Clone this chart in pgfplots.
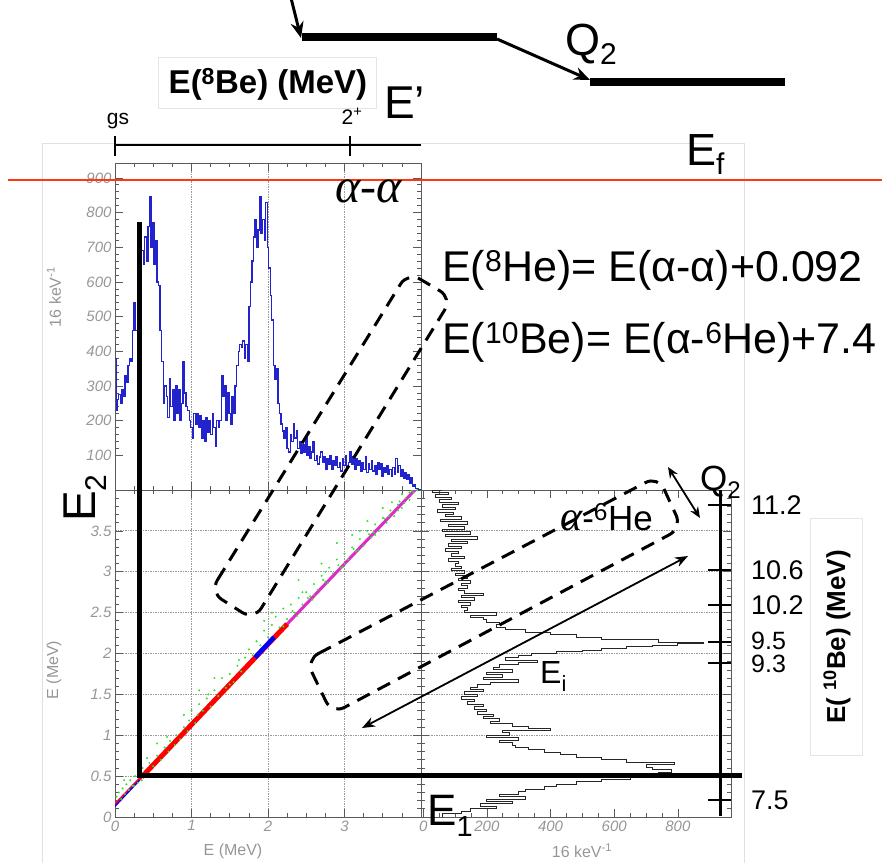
\documentclass[border=0pt]{standalone}
\usepackage{fontspec}
\setmainfont{Liberation Sans}
\newfontfamily\greekserif{Liberation Serif}
\usepackage{pgfplots}
\pgfplotsset{compat=1.18}
\usetikzlibrary{arrows.meta}
\newcommand{\fs}[1]{\fontsize{#1}{#1}\selectfont}
\definecolor{histblue}{RGB}{35,35,205}
\definecolor{redline}{RGB}{255,55,20}
\definecolor{mygreen}{RGB}{50,225,50}
\definecolor{mymag}{RGB}{225,40,200}
\definecolor{tickgray}{RGB}{150,150,150}
\pgfplotsset{rootax/.style={
  scale only axis, anchor=south west,
  axis line style={draw=black!65, line width=0.9pt},
  every tick/.style={black!65, line width=0.7pt},
  major tick length=8pt, minor tick length=4pt,
  tick label style={font=\fs{15}\itshape, text=tickgray},
  /pgf/number format/assume math mode=true,
  grid style={black!40, line width=0.8pt, dash pattern=on 1.5pt off 1pt},
}}
\begin{document}
\begin{tikzpicture}
\useasboundingbox (0,0) rectangle (882pt,-862pt);
\begin{scope}[x=1pt,y=-1pt]
\draw[black!12, line width=1pt] (42,143) rectangle (744,875);
\end{scope}

% upper alpha-alpha histogram
\begin{axis}[rootax, at={(115pt,-490pt)}, width=306pt, height=327pt,
  xmin=0, xmax=4, ymin=0, ymax=943,
  xtick={0,1,2,3,4}, xticklabels={}, minor x tick num=3,
  ytick={100,200,...,900}, minor y tick num=4, xmajorgrids]
\addplot[const plot, color=histblue, line width=1.3pt] coordinates {
(0.00,380) (0.016,230) (0.03,260) (0.05,275) (0.07,250) (0.09,290) (0.11,270) (0.13,330) (0.15,310) (0.17,360)
(0.19,380) (0.21,370) (0.23,460) (0.25,540) (0.27,460) (0.29,520) (0.31,620) (0.33,580) (0.35,690) (0.37,650)
(0.39,730) (0.41,660) (0.43,760) (0.45,845) (0.47,700) (0.49,770) (0.51,650) (0.53,720) (0.55,600) (0.57,590)
(0.59,460) (0.61,370) (0.63,250) (0.65,300) (0.67,270) (0.69,210) (0.71,320) (0.73,240) (0.75,290) (0.77,200)
(0.79,300) (0.81,220) (0.83,290) (0.85,200) (0.87,250) (0.89,370) (0.91,280) (0.93,240) (0.95,230) (0.97,200)
(0.99,180) (1.01,150) (1.03,220) (1.05,190) (1.07,220) (1.09,180) (1.11,215) (1.13,150) (1.15,200) (1.17,140)
(1.19,210) (1.21,165) (1.23,200) (1.25,160) (1.27,220) (1.29,180) (1.31,125) (1.33,200) (1.35,180) (1.37,200)
(1.39,330) (1.41,270) (1.43,300) (1.45,200) (1.47,280) (1.49,220) (1.51,190) (1.53,270) (1.55,220) (1.57,300)
(1.59,360) (1.61,400) (1.63,420) (1.65,410) (1.67,430) (1.69,380) (1.71,420) (1.73,370) (1.75,530) (1.77,600)
(1.79,660) (1.81,730) (1.83,780) (1.85,700) (1.87,750) (1.89,845) (1.91,740) (1.93,780) (1.95,720) (1.97,830)
(1.99,700) (2.01,640) (2.03,560) (2.05,490) (2.07,360) (2.09,320) (2.11,350) (2.13,250) (2.15,220) (2.17,190)
(2.19,170) (2.21,150) (2.23,180) (2.25,120) (2.27,110) (2.29,160) (2.31,140) (2.33,190) (2.35,150) (2.37,170)
(2.39,120) (2.41,140) (2.43,105) (2.45,130) (2.47,110) (2.49,150) (2.51,100) (2.53,125) (2.55,90) (2.57,110)
(2.59,140) (2.61,85) (2.63,100) (2.65,75) (2.67,95) (2.69,110) (2.71,80) (2.73,95) (2.75,60) (2.77,90)
(2.79,75) (2.81,100) (2.83,60) (2.85,85) (2.87,70) (2.89,95) (2.91,65) (2.93,80) (2.95,55) (2.97,90)
(2.99,70) (3.01,100) (3.03,65) (3.05,80) (3.07,110) (3.09,75) (3.11,95) (3.13,60) (3.15,90) (3.17,70)
(3.19,85) (3.21,55) (3.23,80) (3.25,60) (3.27,95) (3.29,50) (3.31,75) (3.33,60) (3.35,85) (3.37,55)
(3.39,70) (3.41,45) (3.43,80) (3.45,60) (3.47,75) (3.49,40) (3.51,65) (3.53,50) (3.55,70) (3.57,45)
(3.59,60) (3.61,40) (3.63,65) (3.65,45) (3.67,90) (3.69,50) (3.71,70) (3.73,40) (3.75,60) (3.77,35)
(3.79,50) (3.81,30) (3.83,45) (3.85,20) (3.87,35) (3.89,10) (3.91,15) (3.93,5) (3.95,3) (3.97,0) (4.0,0)};
\end{axis}

% lower-left scatter
\begin{axis}[rootax, at={(115pt,-817pt)}, width=306pt, height=327pt,
  xmin=0, xmax=4, ymin=0, ymax=4,
  xtick={0,1,2,3,4}, xticklabels={0,1,2,3,}, minor x tick num=3,
  ytick={0,0.5,...,4}, yticklabels={0,0.5,1,1.5,2,2.5,3,3.5,}, minor y tick num=4, grid=major]
\addplot[mymag, line width=3pt] coordinates {(0,0.15) (3.92,4.0)};
\addplot[only marks, mark=*, mark size=0.8pt, color=mygreen] coordinates {
(0.02,0.25) (0.05,0.3) (0.08,0.22) (0.1,0.35) (0.13,0.28) (0.15,0.4) (0.18,0.33) (0.2,0.45) (0.23,0.38) (0.26,0.5)
(0.3,0.42) (0.33,0.55) (0.36,0.6) (0.4,0.52) (0.45,0.66) (0.5,0.62) (0.55,0.75) (0.6,0.7) (0.65,0.85) (0.7,0.8)
(0.72,0.93) (0.78,0.88) (0.8,1.0) (0.85,0.95) (0.9,1.1) (0.95,1.05) (0.97,1.18) (1.0,1.3) (1.05,1.15) (1.08,1.25)
(1.1,1.38) (1.15,1.3) (1.2,1.45) (1.25,1.35) (1.3,1.55) (1.35,1.48) (1.4,1.7) (1.45,1.58) (1.5,1.75) (1.55,1.65)
(1.6,1.85) (1.65,1.78) (1.7,1.95) (1.75,2.05) (1.8,1.98) (1.85,2.15) (1.9,2.1) (1.95,2.28) (2.0,2.2) (2.05,2.35)
(2.1,2.45) (2.15,2.32) (2.2,2.55) (2.25,2.42) (2.3,2.6) (2.35,2.5) (2.4,2.68) (2.45,2.6) (2.5,2.75) (2.55,2.7)
(2.6,2.85) (2.65,2.78) (2.7,2.95) (2.75,2.88) (2.8,3.05) (2.85,2.98) (2.9,3.15) (2.95,3.05) (3.0,3.22) (3.05,3.15)
(3.1,3.3) (3.15,3.25) (3.2,3.4) (3.25,3.32) (3.3,3.5) (3.35,3.42) (3.4,3.58) (3.45,3.5) (3.5,3.66) (3.55,3.6)
(3.6,3.75) (3.65,3.68) (3.7,3.82) (3.75,3.78) (3.8,3.9) (3.85,3.88) (3.9,3.97) (3.62,3.85) (3.3,3.62) (2.7,3.1)
(1.3,1.7) (1.1,1.55) (0.9,1.25) (0.55,0.9) (2.9,3.35) (3.1,3.45) (2.4,2.9) (0.35,0.45) (0.25,0.38) (1.5,1.62)
(2.2,2.33) (2.6,2.72) (3.0,3.1) (3.4,3.45) (3.7,3.75) (3.95,4.0) (2.45,2.75) (2.75,3.0) (3.2,3.5) (3.5,3.78)
(3.75,3.95) (3.85,3.97) (2.05,2.5) (1.95,2.4) (0.12,0.45) (0.42,0.72) (0.68,0.98)
(2.32,2.52) (2.52,2.68) (2.72,2.9) (2.92,3.08) (3.12,3.28) (3.32,3.46) (3.52,3.65) (3.72,3.86) (3.88,3.99)
(2.38,2.46) (2.58,2.66) (2.78,2.86) (2.98,3.06) (3.18,3.26) (3.38,3.48) (3.58,3.68) (3.78,3.84) (1.62,1.92) (1.22,1.5)};
\addplot[red, line width=5pt] coordinates {(0.35,0.49) (2.25,2.36)};
\addplot[red, line width=2pt] coordinates {(0.0,0.15) (0.35,0.49)};
\addplot[blue, line width=4.5pt] coordinates {(1.83,1.95) (2.08,2.2)};
\addplot[blue, line width=1.2pt] coordinates {(0.0,0.13) (0.32,0.45)};
\end{axis}

% lower-right horizontal histogram
\begin{axis}[rootax, at={(421pt,-817pt)}, width=310pt, height=327pt,
  xmin=-7, xmax=967, ymin=0, ymax=4,
  xtick={0,200,400,600,800}, minor x tick num=3,
  ytick={0,0.5,...,4}, yticklabels={}, minor y tick num=4, ymajorgrids]
\addplot[const plot, black!85, line width=1pt] coordinates {
(60,4.00) (30,3.97) (80,3.94) (40,3.91) (90,3.88) (50,3.85) (110,3.82) (60,3.79) (100,3.76) (45,3.73)
(95,3.70) (70,3.67) (120,3.64) (55,3.61) (140,3.58) (80,3.55) (130,3.52) (60,3.49) (150,3.46) (70,3.43)
(170,3.40) (90,3.37) (140,3.34) (80,3.31) (120,3.28) (70,3.25) (110,3.22) (90,3.19) (130,3.16) (80,3.13)
(110,3.10) (100,3.07) (120,3.04) (90,3.01) (130,2.98) (100,2.95) (140,2.92) (110,2.89) (150,2.86) (120,2.83)
(140,2.80) (110,2.77) (130,2.74) (190,2.71) (120,2.68) (160,2.65) (110,2.62) (150,2.59) (120,2.56) (140,2.53)
(130,2.50) (230,2.47) (150,2.44) (190,2.41) (200,2.38) (240,2.35) (230,2.32) (260,2.29) (320,2.26) (400,2.23)
(480,2.20) (560,2.17) (740,2.14) (880,2.12) (800,2.10) (720,2.08) (640,2.06) (560,2.04) (500,2.02) (420,2.00)
(340,1.98) (300,1.95) (260,1.92) (360,1.89) (300,1.86) (240,1.83) (220,1.80) (280,1.77) (200,1.74) (250,1.71)
(190,1.68) (300,1.65) (210,1.62) (170,1.59) (150,1.56) (190,1.53) (130,1.50) (170,1.47) (120,1.44) (160,1.41)
(140,1.38) (190,1.35) (160,1.32) (200,1.29) (170,1.26) (220,1.23) (190,1.20) (240,1.17) (210,1.14) (280,1.11)
(330,1.08) (400,1.06) (250,1.03) (270,1.00) (200,0.97) (300,0.94) (240,0.91) (280,0.88) (290,0.85) (330,0.82)
(380,0.79) (430,0.76) (480,0.73) (560,0.70) (640,0.67) (790,0.64) (700,0.61) (720,0.58) (780,0.55) (740,0.52)
(760,0.49) (650,0.46) (560,0.43) (480,0.40) (420,0.37) (380,0.34) (320,0.31) (300,0.28) (240,0.25) (320,0.22)
(200,0.19) (280,0.16) (180,0.13) (230,0.10) (150,0.07) (120,0.04) (60,0.01) (60,0.0)};
\end{axis}

\begin{scope}[x=1pt,y=-1pt]
% axis labels
\node[rotate=90, text=tickgray] at (54,297) {\fs{16}16 keV\textsuperscript{-1}};
\node[rotate=90, text=tickgray] at (54,670) {\fs{16}E (MeV)};
\node[text=tickgray] at (233,851) {\fs{16}E (MeV)};
\node[text=tickgray] at (582,851) {\fs{16}16 keV\textsuperscript{-1}};
% red line
\draw[redline, line width=1.5pt] (8,180) -- (882,180);
% level scheme
\draw[line width=8pt] (302,37) -- (497,37);
\draw[line width=8pt] (590,82) -- (785,82);
\draw[line width=3pt, -{Stealth[length=16pt,width=13pt]}] (497,39) -- (590,80);
\draw[line width=3pt, -{Stealth[length=16pt,width=13pt]}] (291,-2) -- (301,38);
\node[anchor=base west, inner sep=0] at (565,55) {\fs{45}Q\raisebox{-0.22em}{\fs{30}2}};
\node[anchor=base west, inner sep=0] at (384,118) {\fs{46}E’};
\node[anchor=base west, inner sep=0] at (686,165) {\fs{45}E\raisebox{-0.22em}{\fs{30}f}};
% top E(8Be) axis
\draw[black!10, fill=white] (158,57) rectangle (376,108);
\node[inner sep=0] at (268,84) {\bfseries\fs{33}E(\textsuperscript{8}Be) (MeV)};
\node[anchor=base, inner sep=0] at (118,124) {\fs{21}gs};
\node[anchor=base, inner sep=0] at (352,124) {\fs{21}2\textsuperscript{+}};
\draw[line width=2.5pt] (115,145) -- (421,145);
\draw[line width=2pt] (115,136) -- (115,156);
\draw[line width=2pt] (350,136) -- (350,156);
% formulas
\node[anchor=base west, inner sep=0] at (442,281) {\fs{43}E(\textsuperscript{8}He)= E(α-α)+0.092};
\node[anchor=base west, inner sep=0] at (442,353) {\fs{43}E(\textsuperscript{10}Be)= E(α-\textsuperscript{6}He)+7.4};
% thick lines
\draw[line width=5pt] (139,222) -- (139,777);
\draw[line width=5pt] (137,775) -- (742,775);
% right E(10Be) axis
\draw[line width=3pt] (720,490) -- (720,816);
\foreach \yy/\lab in {505/11.2, 570/10.6, 605/10.2, 800/7.5} {
  \draw[line width=2pt] (708,\yy) -- (731,\yy);
  \node[anchor=west, inner sep=0] at (751,\yy) {\fs{27}\lab};
}
\draw[line width=2pt] (708,642) -- (731,642);
\draw[line width=2pt] (708,663) -- (731,663);
\node[anchor=base west, inner sep=0] at (751,649) {\fs{25}9.5};
\node[anchor=base west, inner sep=0] at (751,672) {\fs{25}9.3};
\draw[black!10, fill=white] (810,518) rectangle (862,755);
\node[rotate=90, inner sep=0] at (837,637) {\bfseries\fs{26}E( \textsuperscript{10}Be) (MeV)};
% dashed boxes
\draw[line width=3pt, dash pattern=on 14pt off 9pt, rounded corners=14pt] (210,592) -- (408,272) -- (452,298) -- (254,620) -- cycle;
\draw[line width=3pt, dash pattern=on 14pt off 9pt, rounded corners=14pt] (306,660) -- (658,476) -- (682,528) -- (332,714) -- cycle;
% arrows
\draw[line width=1.8pt, {Stealth[length=13pt,width=10pt]}-{Stealth[length=13pt,width=10pt]}] (362,728) -- (688,556);
\draw[line width=1.8pt, {Stealth[length=11pt,width=9pt]}-{Stealth[length=11pt,width=9pt]}] (668,467) -- (700,518);
% labels
\node[anchor=base west, inner sep=0] at (335,202) {\greekserif\itshape\fs{48}α-α};
\node[anchor=base west, inner sep=0] at (560,530) {{\greekserif\itshape\fs{42}α}\fs{35}-\textsuperscript{6}He};
\node[anchor=base west, inner sep=0] at (700,490) {\fs{35}Q\raisebox{-0.25em}{\fs{24}2}};
\node[anchor=base west, inner sep=0] at (540,683) {\fs{32}E\raisebox{-0.25em}{\fs{22}i}};
\node[anchor=base west, inner sep=0] at (427,825) {\fs{44}E\raisebox{-0.25em}{\fs{29}1}};
\node[rotate=90, anchor=base west, inner sep=0] at (95,522) {\fs{46}E\raisebox{-0.25em}{\fs{30}2}};
\end{scope}
\end{tikzpicture}
\end{document}
